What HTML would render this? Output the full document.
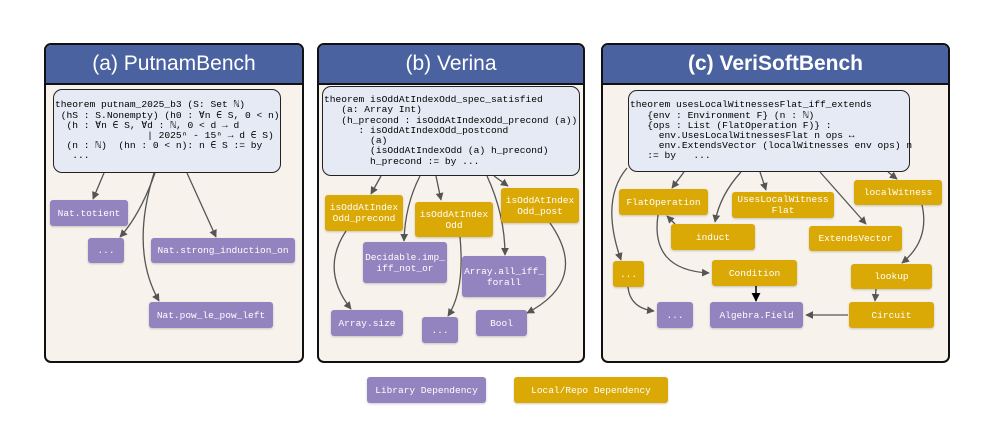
<!DOCTYPE html><html><head><style>
body{margin:0;width:996px;height:431px;background:#fff;position:relative;overflow:hidden;font-family:"Liberation Mono","DejaVu Sans Mono",monospace}
.p{position:absolute;border:2px solid #111;border-radius:7px;background:#f7f3ec;overflow:hidden;box-sizing:border-box}
.h{background:#4a62a0;color:#fff;height:38px;border-bottom:2px solid #111;text-align:center;font:21px/38px "Liberation Sans","DejaVu Sans",sans-serif}
.n{position:absolute;color:#fff;font-size:9.5px;display:flex;align-items:center;justify-content:center;text-align:center;border-radius:3px;line-height:11px;box-shadow:0 1px 2px rgba(0,0,0,.2)}
.pu{background:#9383bf}.g{background:#dba905}
.t{position:absolute;background:#e6eaf5;border:1.5px solid #222;border-radius:9px;box-sizing:border-box;font-size:9.6px;line-height:10.2px;white-space:pre;color:#000;padding-left:1px;display:flex;align-items:center}
svg{position:absolute;left:0;top:0}
</style></head><body>
<div class="p" style="left:44px;top:43px;width:260px;height:320px"><div class="h">(a) PutnamBench</div></div>
<div class="p" style="left:317px;top:43px;width:268px;height:320px"><div class="h">(b) Verina</div></div>
<div class="p" style="left:601px;top:43px;width:349px;height:320px"><div class="h" style="font-weight:bold">(c) VeriSoftBench</div></div>

<div class="t" style="left:53px;top:89px;width:228px;height:84px">theorem putnam_2025_b3 (S: Set ℕ)
 (hS : S.Nonempty) (h0 : ∀n ∈ S, 0 &lt; n)
  (h : ∀n ∈ S, ∀d : ℕ, 0 &lt; d → d
                | 2025ⁿ - 15ⁿ → d ∈ S)
  (n : ℕ)  (hn : 0 &lt; n): n ∈ S := by
   ...</div>
<div class="t" style="left:322px;top:86px;width:258px;height:90px">theorem isOddAtIndexOdd_spec_satisfied
   (a: Array Int)
   (h_precond : isOddAtIndexOdd_precond (a))
      : isOddAtIndexOdd_postcond
        (a)
        (isOddAtIndexOdd (a) h_precond)
        h_precond := by ...</div>
<div class="t" style="left:628px;top:90px;width:282px;height:82px">theorem usesLocalWitnessesFlat_iff_extends
   {env : Environment F} (n : ℕ)
   {ops : List (FlatOperation F)} :
     env.UsesLocalWitnessesFlat n ops ↔
     env.ExtendsVector (localWitnesses env ops) n
   := by   ...</div>

<svg width="996" height="431"><defs><marker id="a" viewBox="0 0 10 10" refX="9" refY="5" markerWidth="6" markerHeight="6" orient="auto"><path d="M0,0L10,5L0,10z" fill="#555"/></marker><marker id="b" viewBox="0 0 10 10" refX="9" refY="5" markerWidth="6" markerHeight="6" orient="auto"><path d="M0,0L10,5L0,10z" fill="#000"/></marker></defs>
<g fill="none" stroke="#555" stroke-width="1.3" marker-end="url(#a)">
<path d="M104,173L93,199"/><path d="M155,173Q140,215 120,237"/><path d="M154,173Q130,250 159,301"/><path d="M187,173L216,237"/>
<path d="M381,176L371,194"/><path d="M420,176Q405,205 404,241"/><path d="M436,176L441,200"/><path d="M487,176Q505,215 505,255"/><path d="M494,176L508,186"/><path d="M346,231Q320,270 351,309"/><path d="M460,237Q465,290 448,316"/><path d="M550,223Q590,280 527,313"/>
<path d="M627,168Q600,200 621,260"/><path d="M684,172L672,188"/><path d="M741,172Q720,195 715,222"/><path d="M760,172L766,190"/><path d="M820,172L866,224"/><path d="M888,172L897,179"/><path d="M922,205Q930,240 902,263"/><path d="M658,215Q650,270 709,273"/><path d="M675,224L667,216"/><path d="M628,287Q630,308 654,311"/><path d="M876,289L875,301"/><path d="M848,315L806,315"/>
</g>
<path d="M756,286L756,301" stroke="#000" stroke-width="1.5" marker-end="url(#b)"/>
</svg>

<div class="n pu" style="left:50px;top:200px;width:78px;height:26px">Nat.totient</div>
<div class="n pu" style="left:88px;top:238px;width:36px;height:25px">...</div>
<div class="n pu" style="left:151px;top:238px;width:144px;height:25px">Nat.strong_induction_on</div>
<div class="n pu" style="left:149px;top:302px;width:124px;height:26px">Nat.pow_le_pow_left</div>

<div class="n g" style="left:325px;top:195px;width:78px;height:36px">isOddAtIndex<br>Odd_precond</div>
<div class="n g" style="left:415px;top:202px;width:78px;height:35px">isOddAtIndex<br>Odd</div>
<div class="n g" style="left:501px;top:188px;width:78px;height:35px">isOddAtIndex<br>Odd_post</div>
<div class="n pu" style="left:363px;top:242px;width:84px;height:41px">Decidable.imp_<br>iff_not_or</div>
<div class="n pu" style="left:462px;top:256px;width:84px;height:41px">Array.all_iff_<br>forall</div>
<div class="n pu" style="left:331px;top:310px;width:72px;height:26px">Array.size</div>
<div class="n pu" style="left:422px;top:317px;width:36px;height:26px">...</div>
<div class="n pu" style="left:476px;top:310px;width:51px;height:26px">Bool</div>

<div class="n g" style="left:619px;top:189px;width:89px;height:26px">FlatOperation</div>
<div class="n g" style="left:732px;top:192px;width:102px;height:26px">UsesLocalWitness<br>Flat</div>
<div class="n g" style="left:854px;top:180px;width:88px;height:25px">localWitness</div>
<div class="n g" style="left:671px;top:224px;width:84px;height:26px">induct</div>
<div class="n g" style="left:809px;top:226px;width:93px;height:25px">ExtendsVector</div>
<div class="n g" style="left:613px;top:261px;width:31px;height:26px">...</div>
<div class="n g" style="left:712px;top:260px;width:85px;height:26px">Condition</div>
<div class="n g" style="left:851px;top:264px;width:81px;height:25px">lookup</div>
<div class="n pu" style="left:657px;top:302px;width:36px;height:26px">...</div>
<div class="n pu" style="left:710px;top:302px;width:93px;height:26px">Algebra.Field</div>
<div class="n g" style="left:849px;top:302px;width:85px;height:26px">Circuit</div>

<div class="n pu" style="left:367px;top:377px;width:119px;height:26px">Library Dependency</div>
<div class="n g" style="left:514px;top:377px;width:154px;height:26px">Local/Repo Dependency</div>
</body></html>
